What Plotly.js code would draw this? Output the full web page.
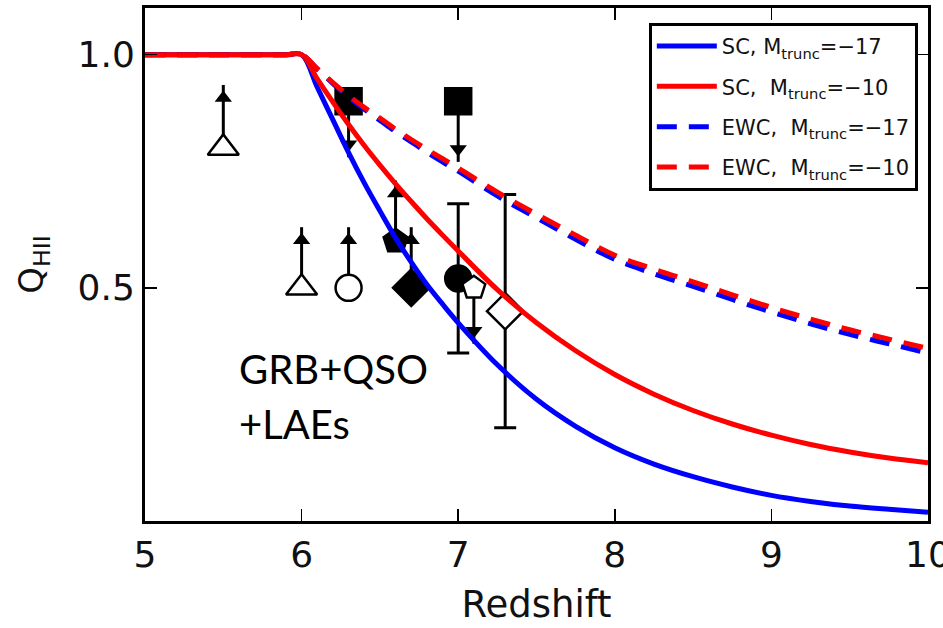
<!DOCTYPE html>
<html>
<head>
<meta charset="utf-8">
<script src="https://cdn.plot.ly/plotly-3.0.1.min.js"></script>
<style>
  html, body { margin: 0; padding: 0; background: #fff; }
  #chart { width: 943px; height: 628px; }
</style>
</head>
<body>
<div id="chart"></div>
<script>
// Redshift grid shared by the model curves
const zGrid = [5.0, 5.5, 5.9, 6.0, 6.1, 6.2, 6.3, 6.4, 6.5, 6.6, 6.7, 6.8, 6.9, 7.0,
               7.25, 7.5, 7.75, 8.0, 8.25, 8.5, 8.75, 9.0, 9.25, 9.5, 9.75, 10.0];

// Ionized fraction Q_HII for each reionization model
const qSC17  = [1.0, 1.0, 1.0, 1.0, 0.930, 0.860, 0.790, 0.725, 0.665, 0.607, 0.555, 0.507, 0.465, 0.425,
                0.335, 0.261, 0.203, 0.157, 0.122, 0.095, 0.073, 0.055, 0.042, 0.032, 0.025, 0.019];
const qSC10  = [1.0, 1.0, 1.0, 1.0, 0.948, 0.898, 0.850, 0.805, 0.763, 0.723, 0.685, 0.648, 0.613, 0.579,
                0.496, 0.425, 0.365, 0.314, 0.272, 0.237, 0.208, 0.184, 0.164, 0.148, 0.135, 0.125];
const qEWC17 = [1.0, 1.0, 1.0, 1.0, 0.969, 0.938, 0.909, 0.883, 0.859, 0.835, 0.813, 0.791, 0.770, 0.750,
                0.697, 0.650, 0.604, 0.561, 0.530, 0.503, 0.475, 0.448, 0.423, 0.400, 0.380, 0.360];
const qEWC10 = [1.0, 1.0, 1.0, 1.0, 0.970, 0.940, 0.912, 0.887, 0.864, 0.840, 0.818, 0.797, 0.777, 0.757,
                0.705, 0.658, 0.613, 0.570, 0.540, 0.513, 0.485, 0.458, 0.433, 0.410, 0.390, 0.370];

const modelNames = [
  'SC,\u00a0M<sub>trunc</sub>=\u221217',
  'SC,\u00a0\u00a0M<sub>trunc</sub>=\u221210',
  'EWC,\u00a0\u00a0M<sub>trunc</sub>=\u221217',
  'EWC,\u00a0\u00a0M<sub>trunc</sub>=\u221210'
];

// Observational constraints
const openTriX = [5.5, 6.0],  openTriY = [0.80, 0.50];
const openCircX = [6.3],      openCircY = [0.50];
const sqX = [6.3, 7.0],       sqY = [0.90, 0.90];
const pentX = [6.6],          pentY = [0.60];
const diaX = [6.7],           diaY = [0.50];
const circX = [7.0],          circY = [0.52], circErrHi = [0.16], circErrLo = [0.16];
const openPentX = [7.1],      openPentY = [0.50];
const openDiaX = [7.3],       openDiaY = [0.45], openDiaErrHi = [0.25], openDiaErrLo = [0.25];

// Lower limits (arrows up) and upper limits (arrows down)
const upX = [5.5, 6.0, 6.3, 6.6, 6.7];
const upY = [0.80, 0.50, 0.50, 0.60, 0.50];
const upTip = [0.935, 0.63, 0.63, 0.73, 0.63];
const downX = [6.3, 7.0, 7.1];
const downY = [0.90, 0.90, 0.50];
const downTip = [0.78, 0.77, 0.38];

const xTicks = [5, 6, 7, 8, 9, 10];
const yTicks = [0.5, 1.0];

const yRange = [0, 1.1];
const plotH = 513;
const headSize = 15;
// distance (in data units) from a triangle marker's centre to its tip
const headOff = (headSize / 2) * Math.sqrt(3) * (yRange[1] - yRange[0]) / plotH;

function segments(xs, y0s, y1s) {
  const x = [], y = [];
  xs.forEach((v, i) => { x.push(v, v, null); y.push(y0s[i], y1s[i], null); });
  return { x, y };
}

const traces = [];
const blk = '#000';

// arrow shafts
const upSeg = segments(upX, upY, upTip);
const dnSeg = segments(downX, downY, downTip);
traces.push({ x: upSeg.x.concat(dnSeg.x), y: upSeg.y.concat(dnSeg.y), mode: 'lines',
  line: { color: blk, width: 3 }, showlegend: false, hoverinfo: 'skip' });
// arrow heads
traces.push({ x: upX, y: upTip.map(t => t - headOff), mode: 'markers', showlegend: false,
  marker: { symbol: 'triangle-up', size: headSize, color: blk, line: { width: 0 } } });
traces.push({ x: downX, y: downTip.map(t => t + headOff), mode: 'markers', showlegend: false,
  marker: { symbol: 'triangle-down', size: headSize, color: blk, line: { width: 0 } } });

function pts(x, y, symbol, size, filled, extra) {
  return Object.assign({ x, y, mode: 'markers', showlegend: false,
    marker: { symbol, size, color: filled ? blk : '#fff', line: { color: blk, width: 2.5 } } }, extra || {});
}

traces.push(pts(openTriX, openTriY, 'triangle-up', 27, false));
traces.push(pts(openCircX, openCircY, 'circle', 26, false));
traces.push(pts(sqX, sqY, 'square', 26, true));
traces.push(pts(pentX, pentY, 'pentagon', 25, true));
traces.push(pts(diaX, diaY, 'diamond', 28, true));
traces.push(pts(circX, circY, 'circle', 26, true, {
  error_y: { type: 'data', symmetric: false, array: circErrHi, arrayminus: circErrLo,
    color: blk, thickness: 3, width: 11 } }));
traces.push(pts(openPentX, openPentY, 'pentagon', 24, false));
traces.push(pts(openDiaX, openDiaY, 'diamond', 28, false, {
  error_y: { type: 'data', symmetric: false, array: openDiaErrHi, arrayminus: openDiaErrLo,
    color: blk, thickness: 3, width: 11 } }));

// model curves
const curves = [
  { y: qSC17,  color: '#0000ff', dash: 'solid' },
  { y: qSC10,  color: '#ff0000', dash: 'solid' },
  { y: qEWC17, color: '#0000ff', dash: '20px,12px' },
  { y: qEWC10, color: '#ff0000', dash: '20px,12px' }
];
curves.forEach((c, i) => {
  traces.push({ x: zGrid, y: c.y, mode: 'lines', name: modelNames[i],
    legendgroup: 'g' + i, legendrank: i + 1,
    line: { color: c.color, width: 5, dash: c.dash, shape: 'spline', smoothing: 1 } });
});

const axisFont = { family: 'DejaVu Sans', size: 36, color: '#111' };

const layout = {
  width: 943, height: 628,
  margin: { l: 145, r: 15, t: 8, b: 107 },
  paper_bgcolor: '#fff', plot_bgcolor: '#fff',
  showlegend: true,
  xaxis: {
    range: [5, 10], tickvals: xTicks, ticktext: xTicks.map(String),
    ticks: 'inside', ticklen: 12, tickwidth: 1.5, tickcolor: blk,
    showline: true, linewidth: 3, linecolor: blk, mirror: 'allticks',
    showgrid: false, zeroline: false, tickfont: axisFont, ticklabeloverflow: 'allow',
    title: { text: 'Redshift', font: { family: 'DejaVu Sans', size: 37, color: '#111' }, standoff: 17 }
  },
  yaxis: {
    range: yRange, tickvals: yTicks, ticktext: ['0.5', '1.0'],
    ticks: 'inside', ticklen: 12, tickwidth: 1.5, tickcolor: blk,
    showline: true, linewidth: 3, linecolor: blk, mirror: 'allticks',
    showgrid: false, zeroline: false, tickfont: axisFont,
    title: { text: 'Q<sub>HII</sub>', font: { family: 'DejaVu Sans', size: 34, color: '#111' }, standoff: 24 }
  },
  legend: {
    x: 0.987, y: 0.971, xanchor: 'right', yanchor: 'top',
    bgcolor: '#fff', bordercolor: blk, borderwidth: 3,
    font: { family: 'DejaVu Sans', size: 21, color: '#111' },
    itemwidth: 60,
    tracegroupgap: 10
  },
  annotations: [
    { x: 5.585, y: 0.325, xref: 'x', yref: 'y', text: 'GRB+QSO', showarrow: false,
      xanchor: 'left', yanchor: 'middle', font: { family: 'Lato', size: 40, color: '#000' } },
    { x: 5.585, y: 0.207, xref: 'x', yref: 'y', text: '+LAEs', showarrow: false,
      xanchor: 'left', yanchor: 'middle', font: { family: 'Lato', size: 40, color: '#000' } }
  ]
};

Plotly.newPlot('chart', traces, layout, { displayModeBar: false, staticPlot: true });
</script>
</body>
</html>
